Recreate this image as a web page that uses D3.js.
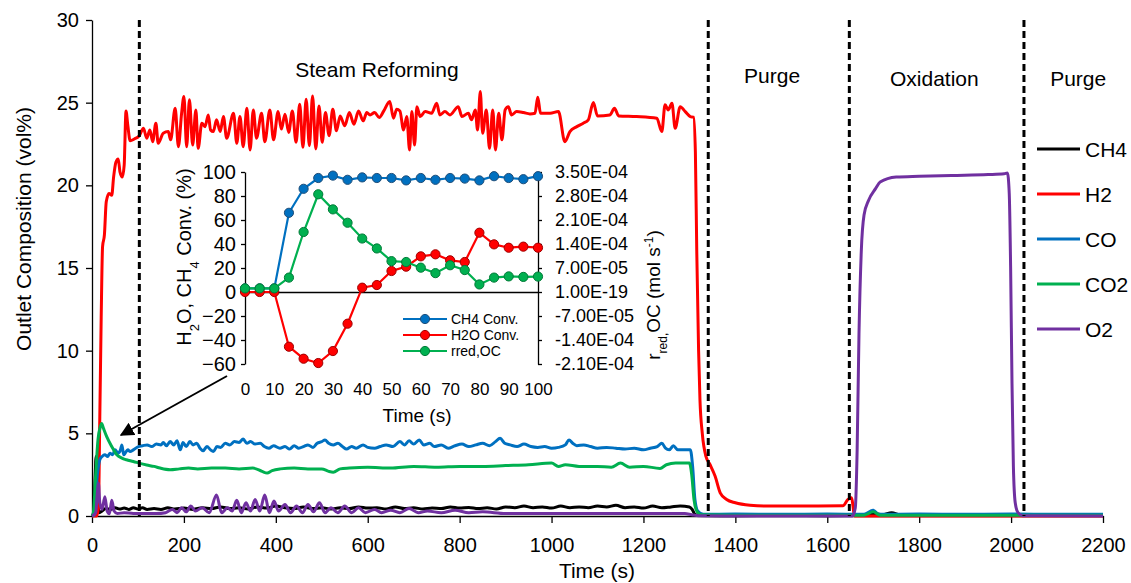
<!DOCTYPE html>
<html>
<head>
<meta charset="utf-8">
<script src="https://cdn.jsdelivr.net/npm/d3@7"></script>
<style>
  body { margin: 0; background: #fff; }
  svg { font-family: "Liberation Sans", Arial, sans-serif; }
</style>
</head>
<body>
<div id="chart"></div>
<script>
let width = 1131, height = 583;

// ---- main chart data: [time (s), vol%] ----
let ch4 = [[0,0],[4,0.2],[7,2.5],[9,3.6],[11,2.0],[13,0.6],[16,0.2],[22,0.3],[30,0.45],[40,0.4],[50,0.5],[60,0.42],[70,0.48],[80,0.4],[90,0.5],[100,0.42],[110,0.5],[120,0.4],[135,0.45],[150,0.4],[165,0.5],[180,0.42],[200,0.48],[220,0.4],[240,0.5],[260,0.45],[280,0.55],[300,0.45],[320,0.5],[340,0.42],[360,0.55],[380,0.48],[400,0.6],[420,0.5],[440,0.45],[460,0.55],[480,0.45],[500,0.5],[520,0.42],[540,0.5],[560,0.45],[580,0.55],[600,0.48],[620,0.5],[640,0.42],[660,0.55],[680,0.45],[700,0.5],[720,0.42],[740,0.48],[760,0.45],[780,0.55],[800,0.48],[820,0.52],[840,0.45],[860,0.5],[880,0.42],[900,0.55],[920,0.5],[940,0.6],[960,0.5],[980,0.55],[1000,0.48],[1020,0.6],[1040,0.5],[1060,0.55],[1080,0.5],[1100,0.6],[1120,0.55],[1140,0.65],[1160,0.5],[1180,0.55],[1200,0.48],[1220,0.6],[1240,0.5],[1260,0.55],[1280,0.6],[1300,0.55],[1306,0.4],[1312,0.1],[1320,0.03],[1400,0.02],[1500,0.03],[1600,0.02],[1680,0.05],[1700,0.15],[1720,0.08],[1740,0.2],[1760,0.05],[1900,0.04],[2000,0.03],[2200,0.03]];

let h2 = [[0,0],[10,0],[14,0.5],[17,6],[20,12],[23,16.3],[27,17],[31,19],[37,19.5],[43,19.4],[47,20.5],[52,21.4],[57,21.6],[61,20.8],[66,20.5],[70,21.2],[74,24.5],[78,23.6],[83,22.7],[92,22.8],[103,23.0],[112,23.45],[119,22.85],[126,23.35],[132,22.64],[139,23.76],[144,22.55],[155,23.15],[166,23.25],[171,22.75],[181,24.66],[188,22.34],[195,24.36],[200,25.37],[206,22.34],[212,25.17],[219,22.44],[226,24.56],[231,22.24],[239,23.76],[246,23.55],[253,24.26],[258,23.35],[264,23.25],[271,23.96],[279,23.25],[286,24.16],[293,22.85],[308,24.36],[315,22.55],[322,24.16],[329,22.34],[337,24.66],[344,22.14],[351,24.56],[358,22.85],[369,24.36],[376,22.64],[387,24.56],[395,22.75],[405,24.46],[412,23.4],[420,24.3],[428,23.2],[436,24.5],[444,22.6],[452,24.9],[459,22.3],[466,25.2],[473,22.4],[480,25.4],[487,22.2],[494,24.8],[501,22.6],[508,24.4],[516,23.0],[524,24.6],[532,23.3],[540,24.2],[550,23.6],[560,24.4],[570,23.7],[580,24.5],[590,23.9],[598,24.4],[605,24.26],[615,24.4],[625,24.1],[635,24.5],[648,25.07],[656,24.06],[663,24.6],[670,24.5],[678,23.35],[685,24.16],[691,22.14],[696,24.46],[702,22.44],[707,24.76],[714,24.16],[725,24.46],[739,24.36],[750,24.97],[757,24.26],[768,24.46],[779,24.26],[797,24.76],[805,24.16],[819,24.36],[826,23.96],[834,24.56],[839,23.35],[845,25.67],[850,23.15],[858,24.56],[865,22.24],[872,24.56],[878,22.14],[885,24.36],[892,22.75],[899,24.56],[906,24.76],[913,24.26],[924,24.46],[939,24.4],[953,24.32],[964,24.36],[970,25.33],[976,24.36],[997,24.36],[1015,24.46],[1029,22.64],[1040,23.25],[1055,23.55],[1069,23.76],[1080,23.96],[1091,25.01],[1100,24.2],[1127,24.26],[1137,24.66],[1146,24.2],[1185,24.16],[1229,24.06],[1240,23.25],[1247,24.87],[1254,24.56],[1262,24.97],[1269,23.45],[1280,24.76],[1291,24.46],[1302,24.16],[1309,24.12],[1313,22],[1316,16],[1320,10],[1323,7],[1328,5],[1336,3.6],[1345,3.1],[1356,2.4],[1367,1.4],[1381,1.0],[1400,0.8],[1432,0.65],[1468,0.6],[1550,0.6],[1634,0.62],[1645,1.0],[1653,1.1],[1656,0.6],[1659,0],[2200,0]];

let co = [[0,0],[6,0.1],[10,2.0],[14,3.0],[17,3.4],[22,3.6],[28,3.7],[34,3.6],[39,3.8],[45,3.7],[50,4.0],[57,3.8],[62,4.0],[65,4.3],[69,3.7],[72,3.8],[78,4.0],[83,3.9],[90,4.0],[101,4.2],[110,4.25],[120,4.3],[130,4.2],[140,4.35],[150,4.3],[155,4.45],[162,4.25],[170,4.5],[178,4.3],[185,4.55],[192,4.0],[198,4.45],[205,4.2],[213,4.5],[220,4.3],[228,4.4],[235,4.1],[242,3.95],[250,4.2],[258,4.0],[264,3.9],[272,4.2],[280,4.15],[290,4.4],[300,4.3],[310,4.5],[320,4.45],[329,4.65],[337,4.4],[345,4.5],[355,4.35],[366,4.4],[375,4.2],[385,4.1],[395,4.25],[409,4.1],[420,4.2],[430,4.05],[440,4.25],[450,4.1],[460,4.2],[470,4.3],[481,4.15],[490,4.4],[500,4.5],[507,4.6],[515,4.4],[525,4.3],[535,4.4],[545,4.2],[554,4.05],[565,4.2],[575,4.1],[590,4.3],[600,4.15],[615,4.1],[627,4.2],[640,4.3],[655,4.2],[670,4.5],[680,4.3],[690,4.55],[700,4.35],[712,4.6],[722,4.3],[735,4.4],[745,4.2],[760,4.3],[775,4.1],[790,4.25],[805,4.35],[820,4.2],[835,4.3],[850,4.4],[865,4.25],[878,4.5],[888,4.7],[898,4.4],[910,4.3],[925,4.2],[940,4.35],[955,4.2],[970,4.15],[985,4.2],[1000,4.1],[1015,4.15],[1030,4.3],[1038,4.6],[1046,4.4],[1055,4.25],[1070,4.3],[1085,4.2],[1100,4.1],[1120,4.15],[1140,4.1],[1160,4.05],[1180,4.1],[1200,4.0],[1215,4.1],[1230,4.2],[1240,4.4],[1248,4.1],[1256,4.0],[1265,4.25],[1275,4.0],[1290,4.0],[1302,4.0],[1307,3.0],[1312,1.0],[1318,0.3],[1330,0.1],[1400,0.12],[1500,0.1],[1600,0.12],[1680,0.1],[1700,0.35],[1712,0.1],[1800,0.12],[1900,0.1],[2000,0.12],[2100,0.1],[2200,0.1]];

let co2 = [[0,0],[3,0.2],[8,2.5],[13,4.6],[18,5.4],[21,5.6],[25,5.3],[32,4.8],[43,4.2],[54,3.7],[65,3.5],[75,3.4],[90,3.3],[104,3.18],[119,3.08],[135,3.0],[148,2.9],[170,2.8],[190,2.85],[210,2.9],[230,2.85],[260,2.9],[290,2.9],[320,2.85],[350,2.9],[370,2.7],[381,2.6],[392,2.75],[410,2.85],[440,2.9],[470,2.85],[500,2.85],[515,2.7],[525,2.65],[540,2.85],[560,2.9],[600,2.95],[650,2.9],[700,3.0],[750,2.95],[800,3.0],[850,3.0],[900,3.05],[950,3.1],[1000,3.2],[1015,3.0],[1030,3.1],[1060,3.0],[1100,3.0],[1130,2.95],[1150,3.2],[1170,2.95],[1200,3.0],[1236,2.88],[1250,3.1],[1270,3.2],[1300,3.2],[1305,2.5],[1310,1.0],[1316,0.3],[1325,0.08],[1400,0.05],[1500,0.05],[1680,0.05],[1700,0.25],[1715,0.05],[1800,0.05],[2000,0.05],[2200,0.05]];

let o2 = [[0,0],[8,0.2],[12,1.5],[14,2.0],[17,0.8],[22,0.4],[28,1.17],[33,0.3],[38,0.14],[43,0.95],[48,0.3],[55,0.15],[70,0.2],[90,0.15],[110,0.15],[140,0.15],[160,0.2],[175,0.4],[185,0.2],[195,0.5],[205,0.25],[215,0.6],[225,0.3],[240,0.5],[255,0.2],[271,1.27],[282,0.2],[295,0.5],[305,0.3],[315,0.95],[325,0.2],[335,0.8],[345,0.3],[355,1.0],[365,0.3],[376,1.27],[386,0.2],[396,0.9],[406,0.3],[420,0.7],[432,0.2],[445,0.6],[458,0.2],[470,0.7],[482,0.25],[495,0.8],[507,0.2],[520,0.5],[535,0.2],[550,0.6],[565,0.2],[580,0.5],[595,0.2],[615,0.4],[630,0.2],[650,0.35],[670,0.2],[690,0.45],[710,0.2],[730,0.3],[760,0.2],[790,0.35],[820,0.2],[850,0.25],[900,0.15],[1000,0.15],[1100,0.15],[1200,0.15],[1290,0.15],[1305,0.08],[1320,0.02],[1400,0],[1655,0],[1661,0.5],[1665,4],[1669,11],[1674,16],[1680,18.2],[1690,19.1],[1705,19.8],[1715,20.2],[1750,20.5],[1800,20.55],[1870,20.6],[1950,20.65],[1985,20.7],[1992,20.75],[1996,19.5],[1999,15],[2002,8],[2005,3],[2009,0.8],[2015,0.2],[2025,0.02],[2200,0]];

let seriesNames = ["CH4", "H2", "CO", "CO2", "O2"];
let seriesColors = ["#000000", "#ff0000", "#0070c0", "#00b050", "#7030a0"];
let seriesData = [ch4, h2, co, co2, o2];

let xTicks = [0, 200, 400, 600, 800, 1000, 1200, 1400, 1600, 1800, 2000, 2200];
let yTicks = [0, 5, 10, 15, 20, 25, 30];

// phase boundaries (s) and labels
let phaseBounds = [103, 1341, 1648, 2028];
let phaseLabels = ["Steam Reforming", "Purge", "Oxidation", "Purge"];
let phaseLabelT = [620, 1480, 1833, 2146];

// ---- inset data ----
let insetTime = [0,5,10,15,20,25,30,35,40,45,50,55,60,65,70,75,80,85,90,95,100];
let ch4Conv = [3,3,3,66,86,95,97,93.5,95.5,95,95,93,95,93.5,95,94.5,93,96.5,95,94,96.5];
let h2oConv = [0,0,0,-45.6,-55.6,-59.2,-49.2,-26.4,3.6,5.8,17.5,21.1,29.7,31.4,26.4,25,49.4,39.7,36.9,37.8,36.9];
let rredOC = [1.05e-5,1.05e-5,1.05e-5,4.2e-5,1.75e-4,2.85e-4,2.41e-4,2.02e-4,1.56e-4,1.27e-4,9.0e-5,8.75e-5,7.1e-5,5.5e-5,7.8e-5,6.4e-5,2.2e-5,4.2e-5,4.55e-5,4.4e-5,4.5e-5];
let insetXTicks = [0,10,20,30,40,50,60,70,80,90,100];
let insetYTicks = [-60,-40,-20,0,20,40,60,80,100];
let insetY2Ticks = [-2.1e-4,-1.4e-4,-7e-5,1e-19,7e-5,1.4e-4,2.1e-4,2.8e-4,3.5e-4];
let insetNames = ["CH4 Conv.", "H2O Conv.", "rred,OC"];
let insetColors = ["#0070c0", "#ff0000", "#00b050"];
let insetStroke = ["#1f4e79", "#a00000", "#007a37"];

let svg = d3.select("#chart").append("svg")
    .attr("width", width)
    .attr("height", height);

svg.append("rect").attr("width", width).attr("height", height).attr("fill", "#fff");

let x = d3.scaleLinear().domain([0, 2200]).range([92, 1103]);
let y = d3.scaleLinear().domain([0, 30]).range([516, 20]);

// axes
let xAxis = svg.append("g")
    .attr("transform", "translate(0,516)")
    .call(d3.axisBottom(x).tickValues(xTicks).tickFormat(d3.format("d"))
        .tickSize(7).tickSizeOuter(0).tickPadding(15));
let yAxis = svg.append("g")
    .attr("transform", "translate(92,0)")
    .call(d3.axisLeft(y).tickValues(yTicks).tickSize(6).tickSizeOuter(0).tickPadding(7));
[xAxis, yAxis].forEach(g => {
    g.selectAll("text").attr("font-size", 20).attr("fill", "#000").attr("font-family", "Liberation Sans, Arial, sans-serif");
    g.selectAll("line, path").attr("stroke", "#000").attr("stroke-width", 1.3);
});

svg.append("text")
    .attr("x", 597).attr("y", 578)
    .attr("text-anchor", "middle").attr("font-size", 21)
    .text("Time (s)");
svg.append("text")
    .attr("transform", "translate(31,229) rotate(-90)")
    .attr("text-anchor", "middle").attr("font-size", 21)
    .text("Outlet Composition (vol%)");

// series lines
let line = d3.line()
    .x(d => x(d[0]))
    .y(d => y(d[1]))
    .curve(d3.curveMonotoneX);

svg.append("g").selectAll("path")
    .data(seriesData)
    .enter().append("path")
    .attr("d", line)
    .attr("fill", "none")
    .attr("stroke", (d, i) => seriesColors[i])
    .attr("stroke-width", 3)
    .attr("stroke-linejoin", "round");

// phase dashed lines
svg.append("g").selectAll("line")
    .data(phaseBounds)
    .enter().append("line")
    .attr("x1", d => x(d)).attr("x2", d => x(d))
    .attr("y1", y(30)).attr("y2", y(0))
    .attr("stroke", "#000")
    .attr("stroke-width", 3)
    .attr("stroke-dasharray", "7,4");

let labelY = [77, 83, 86, 86];
svg.append("g").selectAll("text")
    .data(phaseLabels)
    .enter().append("text")
    .attr("x", (d, i) => x(phaseLabelT[i]))
    .attr("y", (d, i) => labelY[i])
    .attr("text-anchor", "middle")
    .attr("font-size", 21)
    .text(d => d);

// legend
let legend = svg.append("g");
seriesNames.forEach((name, i) => {
    let ly = 149 + i * 45;
    legend.append("line")
        .attr("x1", 1037).attr("x2", 1080)
        .attr("y1", ly).attr("y2", ly)
        .attr("stroke", seriesColors[i]).attr("stroke-width", 3);
    legend.append("text")
        .attr("x", 1085).attr("y", ly).attr("dy", "0.36em")
        .attr("font-size", 21)
        .text(name);
});

// ---- inset ----
let ix = d3.scaleLinear().domain([0, 100]).range([245, 538]);
let iy = d3.scaleLinear().domain([-60, 100]).range([364, 172]);
let iy2 = d3.scaleLinear().domain([-2.1e-4, 3.5e-4]).range([364, 172]);

function sci(v) {
    let s = v.toExponential(2).toUpperCase();
    return s.replace(/E([+-])(\d)$/, "E$10$2").replace("E+", "E");
}

let inset = svg.append("g");

let ixAxis = inset.append("g")
    .attr("transform", `translate(0,${iy(0)})`)
    .call(d3.axisBottom(ix).tickValues(insetXTicks).tickSize(0).tickSizeOuter(0));
ixAxis.selectAll("text").attr("y", 395 - iy(0)).attr("dy", 0).attr("font-size", 17);

let iyAxis = inset.append("g")
    .attr("transform", "translate(245,0)")
    .call(d3.axisLeft(iy).tickValues(insetYTicks).tickSize(4).tickSizeOuter(0).tickPadding(5));
iyAxis.selectAll("text").attr("font-size", 20);

let iy2Axis = inset.append("g")
    .attr("transform", "translate(538,0)")
    .call(d3.axisRight(iy2).tickValues(insetY2Ticks).tickFormat(sci).tickSize(4).tickSizeOuter(0).tickPadding(13));
iy2Axis.selectAll("text").attr("font-size", 18);

[ixAxis, iyAxis, iy2Axis].forEach(g => {
    g.selectAll("text").attr("fill", "#000").attr("font-family", "Liberation Sans, Arial, sans-serif");
    g.selectAll("line, path").attr("stroke", "#000").attr("stroke-width", 1.3);
});

inset.append("text")
    .attr("x", 417).attr("y", 422)
    .attr("text-anchor", "middle").attr("font-size", 19)
    .text("Time (s)");

let lt = inset.append("text")
    .attr("transform", "translate(191,257) rotate(-90)")
    .attr("text-anchor", "middle").attr("font-size", 20);
lt.append("tspan").text("H");
lt.append("tspan").attr("font-size", 13).attr("baseline-shift", "sub").text("2");
lt.append("tspan").text("O, CH");
lt.append("tspan").attr("font-size", 13).attr("baseline-shift", "sub").text("4");
lt.append("tspan").text(" Conv. (%)");

let rt = inset.append("text")
    .attr("transform", "translate(660,295) rotate(-90)")
    .attr("text-anchor", "middle").attr("font-size", 19);
rt.append("tspan").text("r");
rt.append("tspan").attr("font-size", 12).attr("baseline-shift", "sub").text("red,");
rt.append("tspan").text("OC (mol s");
rt.append("tspan").attr("font-size", 12).attr("baseline-shift", "super").text("-1");
rt.append("tspan").text(")");

let insetSeries = [
    insetTime.map((t, i) => [ix(t), iy(ch4Conv[i])]),
    insetTime.map((t, i) => [ix(t), iy(h2oConv[i])]),
    insetTime.map((t, i) => [ix(t), iy2(rredOC[i])])
];

insetSeries.forEach((pts, k) => {
    inset.append("path")
        .attr("d", d3.line()(pts))
        .attr("fill", "none")
        .attr("stroke", insetColors[k])
        .attr("stroke-width", 2.2);
    inset.append("g").selectAll("circle")
        .data(pts)
        .enter().append("circle")
        .attr("cx", d => d[0]).attr("cy", d => d[1])
        .attr("r", 4.6)
        .attr("fill", insetColors[k])
        .attr("stroke", insetStroke[k])
        .attr("stroke-width", 1);
});

// inset legend
insetNames.forEach((name, k) => {
    let ly = 319 + k * 16;
    inset.append("line")
        .attr("x1", 403).attr("x2", 447).attr("y1", ly).attr("y2", ly)
        .attr("stroke", insetColors[k]).attr("stroke-width", 2.2);
    inset.append("circle")
        .attr("cx", 425).attr("cy", ly).attr("r", 4.6)
        .attr("fill", insetColors[k]).attr("stroke", insetStroke[k]).attr("stroke-width", 1);
    inset.append("text")
        .attr("x", 451).attr("y", ly).attr("dy", "0.36em")
        .attr("font-size", 14)
        .text(name);
});

// arrow from inset to early transient
svg.append("defs").append("marker")
    .attr("id", "arrowhead")
    .attr("viewBox", "0 0 10 10")
    .attr("refX", 9).attr("refY", 5)
    .attr("markerWidth", 7).attr("markerHeight", 7)
    .attr("orient", "auto")
    .append("path")
    .attr("d", "M0,0 L10,5 L0,10 Z")
    .attr("fill", "#000");

svg.append("line")
    .attr("x1", 227).attr("y1", 376)
    .attr("x2", 121).attr("y2", 435)
    .attr("stroke", "#000").attr("stroke-width", 2)
    .attr("marker-end", "url(#arrowhead)");
</script>
</body>
</html>
